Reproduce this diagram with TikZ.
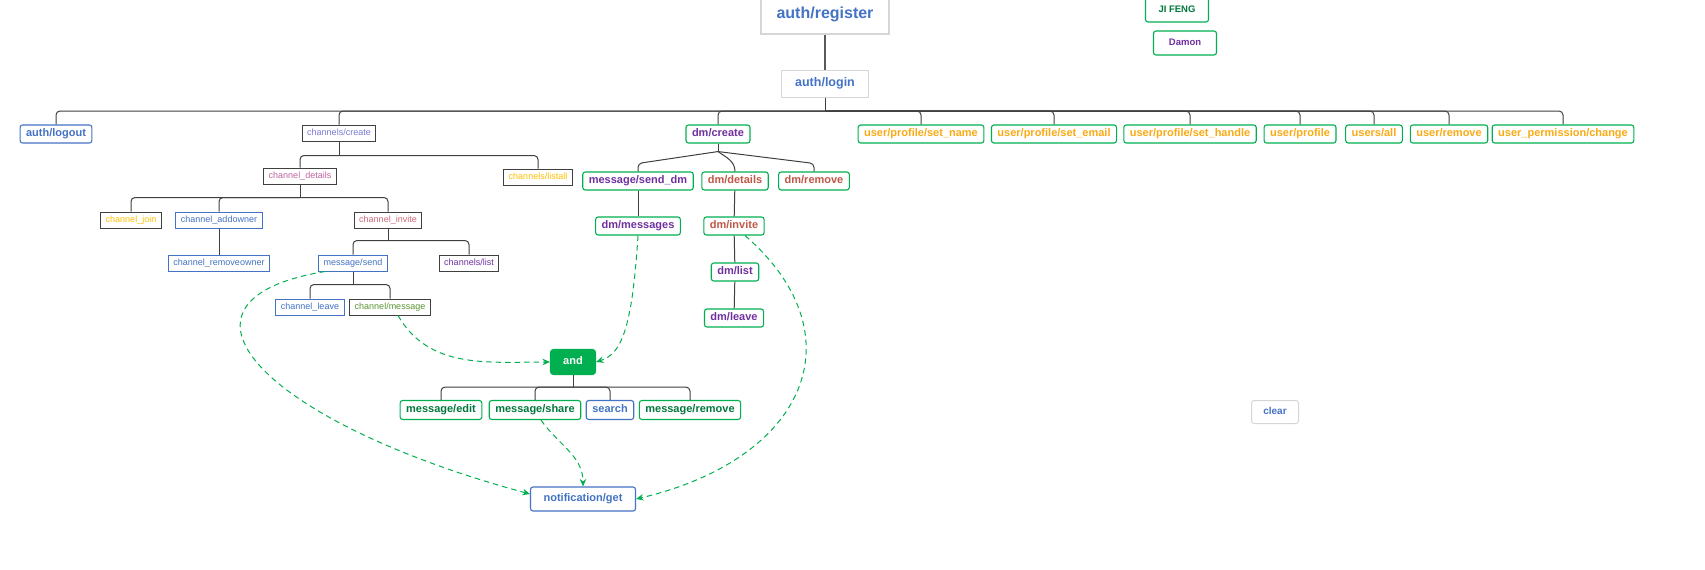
\documentclass[tikz,border=0pt]{standalone}
\usepackage{fontspec}
\setmainfont{Liberation Sans}
\usetikzlibrary{arrows.meta}

\definecolor{txtblue}{RGB}{68,114,196}
\definecolor{boxgreen}{RGB}{0,176,80}
\definecolor{txtorange}{RGB}{250,170,20}
\definecolor{txtpurple}{RGB}{112,48,160}
\definecolor{txtbrown}{RGB}{192,88,72}
\definecolor{txtdkgreen}{RGB}{0,120,60}
\definecolor{lineg}{RGB}{64,64,64}
\definecolor{lgray}{RGB}{214,214,214}
\definecolor{txtlav}{RGB}{120,120,215}
\definecolor{txtmauve}{RGB}{190,100,160}
\definecolor{txtrose}{RGB}{205,105,120}
\definecolor{txtgold}{RGB}{255,192,0}
\definecolor{txtolive}{RGB}{90,150,50}

\begin{document}
\begin{tikzpicture}[x=1pt,y=1pt,
    link/.style={draw=lineg,line width=1pt,rounded corners=4pt},
    gbox/.style={draw=boxgreen,line width=1.1pt,rounded corners=2.5pt,font=\fontsize{11}{13}\selectfont\bfseries,minimum height=18pt,inner xsep=6pt,inner ysep=0pt,text height=0.72em,text depth=0.22em},
    rbox/.style={gbox,draw=txtblue,text=txtblue},
    pbox/.style={draw=lgray,line width=1pt,text=txtblue,inner xsep=6pt,inner ysep=0pt,text height=0.72em,text depth=0.22em},
    cbox/.style={draw=lineg,line width=1pt,font=\fontsize{9}{11}\selectfont,minimum height=16pt,inner xsep=5pt,inner ysep=0pt,text height=0.72em,text depth=0.22em},
    bbox/.style={cbox,draw=txtblue,text=txtblue},
    dep/.style={draw=boxgreen,line width=1pt,dash pattern=on 5.5pt off 4pt,-{Stealth[length=7.5pt,width=6.5pt]}}]

    \path[use as bounding box,fill=white] (0,0) rectangle (1705,-570);

    % auth
    \node[pbox,line width=2pt,minimum width=128pt,minimum height=36pt,font=\fontsize{16}{18}\selectfont\bfseries] (reg) at (825,-16) {auth/register};
    \node[pbox,minimum width=87pt,minimum height=27pt,font=\fontsize{12.5}{14}\selectfont\bfseries] (login) at (825,-84) {auth/login};
    \node[gbox,text=txtdkgreen,minimum width=63pt,minimum height=24pt,font=\fontsize{9.5}{11}\selectfont\bfseries] (jifeng) at (1177,-10) {JI FENG};
    \node[gbox,text=txtpurple,minimum width=63pt,minimum height=24pt,font=\fontsize{9.5}{11}\selectfont\bfseries] (damon) at (1185,-43) {Damon};

    % first level
    \node[rbox] (logout) at (56,-134) {auth/logout};
    \node[cbox,text=txtlav] (chcreate) at (339,-133) {channels/create};
    \node[gbox,text=txtpurple] (dmcreate) at (718,-134) {dm/create};
    \node[gbox,text=txtorange] (setname) at (921,-134) {user/profile/set\_name};
    \node[gbox,text=txtorange] (setemail) at (1054,-134) {user/profile/set\_email};
    \node[gbox,text=txtorange] (sethandle) at (1190,-134) {user/profile/set\_handle};
    \node[gbox,text=txtorange] (profile) at (1300,-134) {user/profile};
    \node[gbox,text=txtorange] (usersall) at (1374,-134) {users/all};
    \node[gbox,text=txtorange] (uremove) at (1449,-134) {user/remove};
    \node[gbox,text=txtorange] (perm) at (1563,-134) {user\_permission/change};

    % channels
    \node[cbox,text=txtmauve] (chdetails) at (300,-176) {channel\_details};
    \node[cbox,text=txtgold] (listall) at (538,-177) {channels/listall};
    \node[cbox,text=txtgold] (join) at (131,-220) {channel\_join};
    \node[bbox] (addowner) at (219,-220) {channel\_addowner};
    \node[cbox,text=txtrose] (invite) at (388,-220) {channel\_invite};
    \node[bbox] (removeowner) at (219,-263) {channel\_removeowner};
    \node[bbox] (msgsend) at (353,-263) {message/send};
    \node[cbox,text=txtpurple] (chlist) at (469,-263) {channels/list};
    \node[bbox] (leave) at (310,-307) {channel\_leave};
    \node[cbox,text=txtolive] (chmsg) at (390,-307) {channel/message};

    % dm
    \node[gbox,text=txtpurple] (senddm) at (638,-181) {message/send\_dm};
    \node[gbox,text=txtbrown] (dmdetails) at (735,-181) {dm/details};
    \node[gbox,text=txtbrown] (dmremove) at (814,-181) {dm/remove};
    \node[gbox,text=txtpurple] (dmmsgs) at (638,-226) {dm/messages};
    \node[gbox,text=txtbrown] (dminvite) at (734,-226) {dm/invite};
    \node[gbox,text=txtpurple] (dmlist) at (735,-272) {dm/list};
    \node[gbox,text=txtpurple] (dmleave) at (734,-318) {dm/leave};

    % messages
    \node[gbox,fill=boxgreen,text=white,rounded corners=3pt,minimum width=45pt,minimum height=25pt] (and) at (573,-362) {and};
    \node[gbox,text=txtdkgreen,minimum height=19pt] (edit) at (441,-410) {message/edit};
    \node[gbox,text=txtdkgreen,minimum height=19pt] (share) at (535,-410) {message/share};
    \node[rbox,minimum height=19pt] (search) at (610,-410) {search};
    \node[gbox,text=txtdkgreen,minimum height=19pt] (mremove) at (690,-410) {message/remove};
    \node[rbox,minimum width=105pt,minimum height=24pt] (notif) at (583,-499) {notification/get};
    \node[pbox,rounded corners=2.5pt,minimum width=47pt,minimum height=23pt,font=\fontsize{10}{12}\selectfont\bfseries] (clear) at (1275,-412) {clear};

    % tree lines
    \draw[draw=black!65,line width=2.5pt] (reg.south) -- (login.north);
    \draw[link] (login.south) -- ++(0,-13) coordinate (b1);
    \foreach \c in {logout,chcreate,dmcreate,setname,setemail,sethandle,profile,usersall,uremove,perm}
        \draw[link] (b1) -| (\c.north);

    \draw[link] (chcreate.south) -- ++(0,-14) coordinate (b2);
    \foreach \c in {chdetails,listall}
        \draw[link] (b2) -| (\c.north);
    \draw[link] (chdetails.south) -- ++(0,-13) coordinate (b3);
    \foreach \c in {join,addowner,invite}
        \draw[link] (b3) -| (\c.north);
    \draw[link] (addowner) -- (removeowner);
    \draw[link] (invite.south) -- ++(0,-12) coordinate (b4);
    \foreach \c in {msgsend,chlist}
        \draw[link] (b4) -| (\c.north);
    \draw[link] (msgsend.south) -- ++(0,-13) coordinate (b5);
    \foreach \c in {leave,chmsg}
        \draw[link] (b5) -| (\c.north);

    \draw[link] (dmcreate.south) -- ++(0,-8) coordinate (dj);
    \draw[link] (dj) -- ([yshift=8pt]senddm.north) -- (senddm.north);
    \draw[link] (dj) to[out=-35,in=90] (dmdetails.north);
    \draw[link] (dj) -- ([yshift=8pt]dmremove.north) -- (dmremove.north);
    \draw[link] (senddm) -- (dmmsgs);
    \draw[link] (dmdetails) -- (dminvite);
    \draw[link] (dminvite) -- (dmlist);
    \draw[link] (dmlist) -- (dmleave);

    \draw[link] (and.south) -- ++(0,-12) coordinate (b6);
    \foreach \c in {edit,share,search,mremove}
        \draw[link] (b6) -| (\c.north);

    % dependencies
    \draw[dep] ([xshift=8pt]chmsg.south) to[out=-60,in=180] (and.west);
    \draw[dep] (dmmsgs.south) .. controls +(-6,-95) and +(25,8) .. (and.east);
    \draw[dep] ([xshift=-28pt]msgsend.south) .. controls +(-175,-29) and +(-270,73) .. ([yshift=5pt]notif.west);
    \draw[dep] ([xshift=6pt]share.south) to[out=-55,in=90] (notif.north);
    \draw[dep] ([xshift=11pt]dminvite.south) .. controls +(115,-100) and +(170,40) .. (notif.east);
\end{tikzpicture}
\end{document}
